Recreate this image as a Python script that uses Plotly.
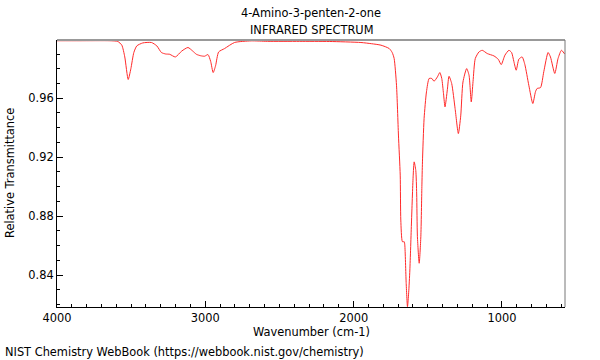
import plotly.graph_objects as go

wavenumber = [4000, 3845, 3644, 3590, 3563, 3543, 3520, 3502, 3482, 3462, 3422, 3363, 3327, 3296,
              3267, 3240, 3202, 3159, 3117, 3085, 3060, 3031, 3005, 2982, 2964, 2947, 2931, 2910,
              2870, 2803, 2690, 2581, 2366, 2164, 1951, 1881, 1816, 1760, 1740, 1727, 1711, 1698,
              1686, 1682, 1671, 1659, 1655, 1646, 1637, 1629, 1621, 1610, 1599, 1592, 1581, 1575,
              1570, 1558, 1547, 1540, 1536, 1525, 1509, 1491, 1473, 1458, 1435, 1419, 1406, 1394,
              1384, 1368, 1357, 1339, 1316, 1294, 1278, 1263, 1238, 1222, 1207, 1195, 1180, 1155,
              1133, 1099, 1054, 1025, 1005, 980, 953, 935, 920, 904, 886, 864, 846, 819, 792, 774,
              763, 740, 718, 689, 673, 644, 622, 599, 577]
transmittance = [0.9990, 0.9990, 0.9990, 0.9985, 0.9960, 0.9880, 0.9727, 0.9800, 0.9910, 0.9955,
                 0.9975, 0.9978, 0.9955, 0.9910, 0.9900, 0.9898, 0.9880, 0.9920, 0.9944, 0.9920,
                 0.9898, 0.9888, 0.9885, 0.9896, 0.9850, 0.9774, 0.9820, 0.9914, 0.9937, 0.9978,
                 0.9989, 0.9986, 0.9986, 0.9985, 0.9978, 0.9970, 0.9960, 0.9937, 0.9910, 0.9870,
                 0.9688, 0.9350, 0.9078, 0.8773, 0.8626, 0.8626, 0.8603, 0.8350, 0.8185, 0.8280,
                 0.8434, 0.8760, 0.9066, 0.9168, 0.9110, 0.8950, 0.8660, 0.8480, 0.8660, 0.9000,
                 0.9168, 0.9462, 0.9643, 0.9734, 0.9734, 0.9715, 0.9745, 0.9774, 0.9734, 0.9630,
                 0.9541, 0.9660, 0.9749, 0.9700, 0.9530, 0.9360, 0.9480, 0.9710, 0.9801, 0.9756,
                 0.9575, 0.9713, 0.9869, 0.9914, 0.9925, 0.9903, 0.9887, 0.9864, 0.9828, 0.9892,
                 0.9925, 0.9910, 0.9850, 0.9790, 0.9865, 0.9880, 0.9830, 0.9688, 0.9564, 0.9644,
                 0.9666, 0.9672, 0.9780, 0.9910, 0.9880, 0.9768, 0.9869, 0.9925, 0.9900]

x_ticks = [4000, 3000, 2000, 1000]
y_ticks = [0.84, 0.88, 0.92, 0.96]
title_lines = ["4-Amino-3-penten-2-one", "INFRARED SPECTRUM"]

FONT = "DejaVu Sans"
FS = 11.4

fig = go.Figure()
fig.add_trace(go.Scatter(x=wavenumber, y=transmittance, mode="lines",
                         line=dict(color="#ff2a2a", width=1, shape="spline", smoothing=0.6),
                         hoverinfo="skip", showlegend=False))

fig.update_layout(
    width=600, height=360,
    margin=dict(l=57, r=35, t=40, b=53),
    paper_bgcolor="white", plot_bgcolor="white",
    font=dict(family=FONT, size=FS, color="black"),
    xaxis=dict(range=[4000, 575], tickvals=x_ticks, ticktext=[str(v) for v in x_ticks],
               ticks="inside", ticklen=6, tickcolor="black", showgrid=False, zeroline=False,
               showline=True, linecolor="black", linewidth=1,
               minor=dict(dtick=100, tick0=0, ticks="inside", ticklen=3, tickcolor="black", showgrid=False)),
    yaxis=dict(range=[0.8183, 0.9995], tickvals=y_ticks, ticktext=["%.2f" % v for v in y_ticks],
               ticks="inside", ticklen=6, tickcolor="black", showgrid=False, zeroline=False,
               showline=True, linecolor="black", linewidth=1,
               minor=dict(dtick=0.01, tick0=0, ticks="inside", ticklen=3, tickcolor="black", showgrid=False)),
)

# gray top and right frame
fig.add_shape(type="line", xref="paper", yref="paper", x0=0, x1=1, y0=1, y1=1,
              line=dict(color="#999999", width=2))
fig.add_shape(type="line", xref="paper", yref="paper", x0=1, x1=1, y0=0, y1=1,
              line=dict(color="#777777", width=1))

def note(text, x, y, xanchor="center", angle=0):
    fig.add_annotation(text=text, xref="paper", yref="paper", x=x, y=y,
                       xanchor=xanchor, yanchor="middle", textangle=angle,
                       showarrow=False, font=dict(size=FS))

note(title_lines[0], 0.5, 1.101)
note(title_lines[1], 0.5, 1.0375)
note("Wavenumber (cm-1)", 0.5, -0.0936)
note("Relative Transmittance", -0.0925, 0.502, angle=-90)
note("NIST Chemistry WebBook (https://webbook.nist.gov/chemistry)", -0.1063, -0.1685, xanchor="left")

fig.write_html("out.html", config={"displayModeBar": False},
               post_script="document.body.style.margin='0';")
